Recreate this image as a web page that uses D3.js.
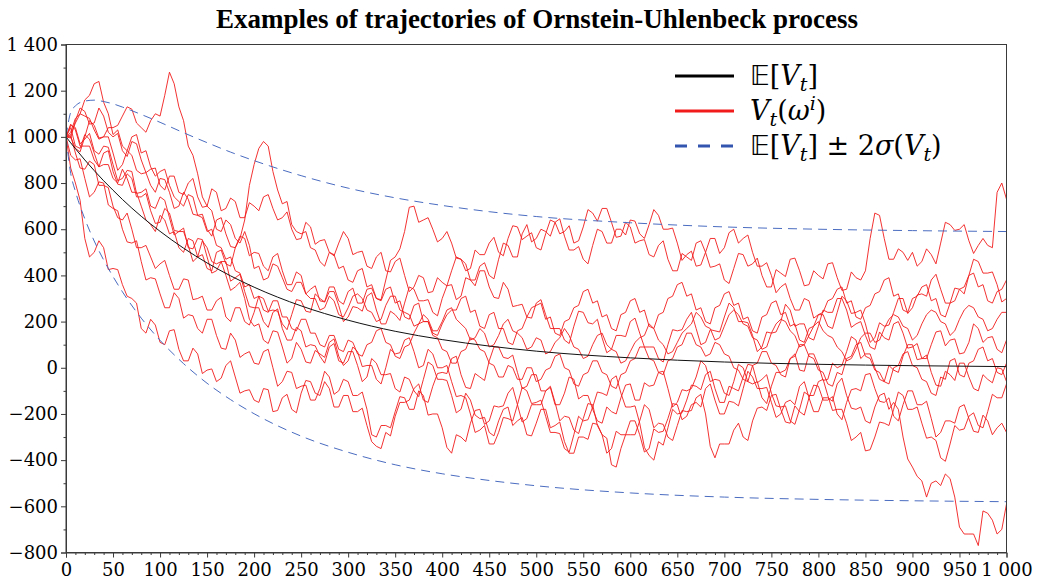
<!DOCTYPE html>
<html>
<head>
<meta charset="utf-8">
<script src="https://cdn.jsdelivr.net/npm/d3@7"></script>
<style>
  html, body { margin: 0; padding: 0; background: #fff; }
  svg { display: block; }
</style>
</head>
<body>
<svg id="chart" width="1037" height="582"></svg>
<script>
// Sampling grid of the simulated paths (every 5 time steps)
const pathTimes = d3.range(0, 1001, 5);

// Ten simulated Ornstein-Uhlenbeck paths, V_0 = 1000
const path1 = [1000,1010,1060,1100,1090,1080,1030,990,1000,1040,1040,1050,1090,1130,1120,1060,1040,1020,1070,1100,
  1090,1180,1280,1230,1130,1070,960,920,840,740,700,680,600,590,640,620,560,540,590,530,
  430,440,380,390,450,440,390,340,330,370,370,320,300,300,250,260,310,290,230,220,
  260,310,320,300,250,240,200,210,270,310,310,250,240,230,180,190,230,210,160,160,
  200,250,260,210,190,170,120,130,170,150,90,100,140,190,210,160,150,130,80,90,
  130,120,60,70,110,130,170,140,90,80,40,50,100,140,150,100,80,70,20,30,
  70,110,130,140,190,170,120,100,60,70,110,150,170,190,240,220,180,170,120,130,
  180,230,250,230,190,180,130,120,80,90,150,190,210,200,160,140,90,100,140,180,
  200,160,140,130,90,70,30,40,80,130,150,150,110,120,170,210,230,220,180,170,
  120,140,190,230,250,240,200,190,140,160,210,250,270,260,220,210,160,170,210,240,
  240];
const path2 = [1000,1020,1080,1100,1160,1180,1230,1240,1150,1100,1010,1030,960,940,1000,1010,930,940,870,830,
  850,860,790,740,720,700,750,740,660,650,590,600,530,520,470,480,420,410,350,360,
  300,310,250,240,290,290,220,220,170,160,210,210,150,150,100,90,140,140,80,70,
  120,110,60,50,100,110,160,170,110,100,50,40,90,100,150,190,200,200,140,130,
  80,70,20,20,70,80,130,120,80,70,20,10,-40,-40,10,0,-50,-50,0,0,
  -60,-50,-10,0,50,60,0,-10,-70,-80,-30,-20,30,30,-20,-30,-80,-90,-30,-20,
  30,40,90,90,40,30,-20,-30,30,40,90,100,150,150,100,90,50,60,110,100,
  60,50,0,-10,-50,-60,10,20,70,70,20,10,-30,-40,40,50,100,100,50,40,
  -10,-20,-70,-80,-20,-30,40,50,100,110,50,40,-10,-20,-60,-70,0,10,60,70,
  10,0,-50,-60,-110,-120,-40,-50,30,40,-30,-40,20,30,80,90,30,40,-20,-30,
  20];
const path3 = [1000,1040,960,950,1010,990,930,870,880,880,820,800,860,820,760,760,700,640,620,590,
  660,640,580,590,520,500,560,550,480,490,430,420,500,510,450,440,520,560,640,790,
  880,950,980,960,850,770,710,720,620,590,580,590,520,510,460,440,500,490,430,440,
  380,370,420,430,350,360,300,290,340,350,280,290,220,210,270,280,200,200,150,140,
  190,230,250,250,300,310,240,250,180,170,230,240,170,170,110,100,160,170,220,260,
  270,280,210,220,150,140,200,210,260,270,330,340,280,290,220,230,170,160,230,240,
  290,300,240,250,180,170,230,240,300,310,360,370,310,320,250,260,200,190,260,270,
  320,330,270,280,210,220,160,150,220,230,280,290,230,240,180,190,120,110,170,180,
  230,240,290,300,340,350,280,290,220,210,260,270,320,330,380,390,310,320,250,240,
  300,310,350,360,290,300,230,220,280,290,340,350,400,410,350,360,290,280,330,340,
  380];
const path4 = [1000,1005,930,865,860,895,880,790,790,780,700,650,640,670,600,520,520,530,480,430,
  450,465,400,340,340,385,380,295,300,310,250,250,290,305,220,200,260,260,200,185,
  240,310,300,245,250,245,190,165,230,295,290,245,240,320,300,285,350,350,290,275,
  330,345,280,280,340,345,300,295,380,465,480,515,590,695,700,630,640,650,600,545,
  560,590,540,475,470,450,380,355,420,420,350,305,300,370,340,265,270,275,220,215,
  280,295,230,170,170,170,120,105,180,245,240,195,190,210,130,65,80,140,140,135,
  200,215,150,90,90,90,40,25,100,165,160,165,210,240,170,100,110,165,160,155,
  220,280,260,200,200,195,140,70,90,155,150,155,200,275,250,180,190,190,130,120,
  180,250,240,240,300,300,250,175,190,200,140,90,80,155,130,120,190,200,150,85,
  90,105,40,40,100,155,160,95,120,125,60,65,110,190,170,110,130,135,80,65,
  120];
const path5 = [1000,865,800,725,560,480,500,550,520,425,430,425,360,310,300,280,170,150,210,185,
  110,100,160,165,80,30,30,85,60,-25,-10,-5,-60,-45,10,30,-40,-110,-100,-95,
  -140,-150,-90,-95,-190,-185,-130,-115,-180,-195,-110,-55,-60,-110,-120,-60,-90,-170,-170,-120,
  -120,-190,-190,-175,-250,-320,-340,-350,-280,-295,-210,-150,-150,-140,-90,-70,-140,-150,-80,-25,
  -20,-25,40,50,-30,-85,-90,-25,-40,-55,30,90,90,45,40,55,-20,-90,-80,-30,
  -30,-100,-100,-85,-160,-160,-110,-40,-50,-135,-120,-120,-180,-230,-240,-170,-190,-200,-130,-75,
  -70,-140,-140,-65,-80,-75,-20,-15,-90,-170,-150,-95,-100,-90,-40,30,10,-60,-50,-55,
  -110,-120,-60,15,0,-60,-70,-60,-130,-155,-80,-20,-20,-10,40,60,-10,-15,60,60,
  10,-55,-50,20,0,10,70,135,120,40,60,60,0,-50,-60,10,-10,-20,50,100,
  100,35,40,55,-20,-75,-80,-15,-30,-55,20,20,-40,-90,-100,-30,-50,-65,0,-5,
  -60];
const path6 = [1000,1050,1040,970,990,1015,940,925,960,955,880,810,820,855,850,755,760,775,700,690,
  740,725,650,575,590,605,520,515,560,555,480,410,420,460,460,375,390,405,330,265,
  260,260,200,175,240,255,170,120,120,175,160,90,100,95,50,20,90,105,30,20,
  70,70,10,-60,-40,40,20,-30,-30,-25,-90,-105,-40,-50,-100,-125,-50,25,10,-50,
  -50,-55,-120,-195,-180,-110,-140,-205,-220,-215,-280,-295,-230,-180,-170,-250,-230,-215,-290,-295,
  -240,-180,-180,-260,-250,-235,-320,-370,-370,-300,-300,-310,-240,-245,-290,-370,-350,-275,-290,-290,
  -230,-230,-290,-365,-350,-265,-280,-275,-220,-155,-160,-225,-210,-160,-150,-170,-90,-70,-140,-200,
  -200,-145,-150,-165,-90,-15,-40,-90,-90,-85,-150,-215,-200,-150,-140,-160,-80,-60,-130,-190,
  -190,-130,-130,-145,-70,-45,-120,-175,-180,-170,-230,-240,-170,-120,-110,-180,-150,-180,-300,-395,
  -430,-470,-490,-560,-500,-490,-510,-460,-480,-560,-690,-720,-720,-720,-770,-620,-630,-660,-720,-700,
  -590];
const path7 = [1000,995,1070,1125,1110,1055,1060,1125,1090,1020,1000,1015,940,915,980,970,900,845,860,865,
  790,770,830,830,760,750,800,820,740,695,700,775,760,680,690,735,720,650,650,715,
  700,680,740,750,690,640,650,675,600,555,560,630,610,535,550,555,500,485,540,590,
  560,490,500,505,440,430,480,500,420,415,460,475,400,330,350,400,390,325,330,390,
  370,355,420,480,470,420,430,510,490,490,540,565,500,485,560,615,610,555,570,585,
  520,510,580,640,630,580,590,615,540,550,610,685,670,635,690,690,630,565,570,630,
  610,540,550,555,490,480,530,550,470,420,420,495,480,465,540,550,500,435,440,450,
  380,365,430,495,490,440,450,475,400,350,350,425,410,395,470,475,420,355,360,420,
  400,385,450,455,390,335,340,415,390,380,420,560,670,660,560,470,470,515,500,465,
  500,440,460,515,490,450,540,630,620,595,600,620,550,495,530,560,530,520,760,800,
  730];
const path8 = [1000,1000,950,935,1000,1070,1050,995,1000,1000,930,855,880,940,920,855,840,845,790,760,
  820,815,760,690,700,760,730,665,660,665,600,570,640,650,580,525,520,570,560,485,
  500,495,440,420,480,495,420,360,360,415,400,320,340,355,290,285,330,330,270,200,
  220,265,260,245,310,325,250,190,190,245,230,205,280,350,340,290,290,295,240,225,
  300,355,360,295,310,390,380,380,440,455,400,385,470,540,530,480,480,580,620,545,
  560,600,590,570,630,645,570,510,510,525,470,450,530,600,590,540,540,600,600,575,
  640,635,580,560,620,685,660,600,600,605,540,465,490,505,440,445,500,560,560,495,
  520,585,600,540,560,575,500,440,440,455,400,325,350,365,300,250,250,300,290,215,
  230,230,180,170,240,310,290,235,240,250,190,110,130,195,180,185,240,300,300,235,
  260,315,320,310,380,405,340,280,280,345,340,320,400,470,460,410,410,415,360,285,
  300];
const path9 = [1000,920,900,905,820,740,760,805,800,705,690,680,600,545,540,550,460,380,390,385,
  320,260,260,325,300,215,230,225,170,150,210,210,140,85,80,150,120,45,60,70,
  20,15,70,80,0,-80,-60,-15,-20,-90,-80,-75,-140,-140,-90,-15,-40,-115,-100,-50,
  -60,-120,-120,-105,-180,-290,-300,-250,-250,-260,-190,-125,-130,-180,-180,-100,-120,-205,-200,-200,
  -260,-345,-370,-290,-300,-320,-240,-185,-180,-245,-230,-165,-170,-165,-110,-85,-160,-235,-220,-160,
  -160,-160,-100,-80,-150,-230,-210,-215,-270,-285,-220,-155,-160,-250,-290,-305,-420,-430,-350,-290,
  -290,-290,-230,-160,-180,-260,-240,-245,-300,-315,-250,-185,-190,-185,-130,-115,-200,-340,-390,-330,
  -330,-330,-270,-240,-300,-315,-230,-175,-170,-185,-120,-115,-180,-235,-240,-165,-190,-205,-130,-75,
  -80,-140,-140,-125,-200,-225,-150,-95,-90,-100,-30,-25,-90,-145,-150,-130,-210,-230,-160,-100,
  -100,-160,-160,-145,-220,-300,-280,-230,-230,-240,-170,-160,-220,-275,-280,-205,-230,-290,-260,-240,
  -280];
const path10 = [1000,1055,1030,960,960,960,900,870,930,940,850,795,790,840,820,740,740,755,680,625,
  630,690,670,595,590,590,530,460,480,550,520,460,450,460,400,335,350,370,300,210,
  180,190,120,105,160,155,90,20,40,110,80,25,20,75,60,45,110,125,50,10,
  30,90,70,5,10,10,-50,-70,0,80,60,65,120,130,70,0,10,80,60,0,
  0,10,-60,-125,-120,-130,-200,-280,-270,-250,-330,-330,-280,-215,-220,-230,-160,-85,-100,-155,
  -150,-140,-210,-280,-280,-285,-350,-365,-290,-210,-230,-225,-170,-105,-110,-120,-50,-35,-110,-170,
  -170,-165,-240,-345,-380,-400,-320,-335,-260,-180,-200,-195,-140,-75,-80,-95,-30,-15,-90,-150,
  -150,-80,-90,-100,-40,15,10,-65,-50,-30,-110,-165,-170,-165,-230,-245,-180,-105,-120,-120,
  -60,-50,-120,-185,-180,-180,-240,-315,-300,-280,-360,-355,-300,-235,-240,-250,-180,-105,-120,-180,
  -180,-170,-240,-305,-300,-315,-390,-405,-330,-250,-270,-265,-210,-195,-250,-260,-190,-115,-130,-130,
  -70];
const paths = [path1, path2, path3, path4, path5, path6, path7, path8, path9, path10];
paths.forEach((p, i) => {
  if (p.length !== pathTimes.length) throw new Error("path" + (i + 1) + " has " + p.length + " values");
});

// Expectation and the ±2σ envelope, sampled at these times
const curveTimes = [0,5,10,20,30,40,50,60,80,100,125,150,175,200,250,300,350,400,450,500,600,700,800,900,1000];
const meanValues = [1000,974,949,900,854,810,769,729,656,591,518,454,398,349,268,206,158,122,94,72,43,25,15,9,5];
const upperValues = [1000,1106,1134,1155,1159,1153,1143,1129,1097,1063,1018,975,934,897,832,778,736,703,676,655,628,610,600,594,590];
const lowerValues = [1000,842,764,645,549,467,395,329,215,119,18,-67,-138,-199,-296,-366,-420,-459,-488,-511,-542,-560,-570,-576,-580];

// Axis ticks
const yMajor = [-800,-600,-400,-200,0,200,400,600,800,1000,1200,1400];
const yMinor = [-700,-500,-300,-100,100,300,500,700,900,1100,1300];
const xMajor = [0,50,100,150,200,250,300,350,400,450,500,550,600,650,700,750,800,850,900,950,1000];
const xMinor = d3.range(0, 1001, 10).filter(v => v % 50 !== 0);

const titleText = "Examples of trajectories of Ornstein-Uhlenbeck process";

const svg = d3.select("#chart");
const plotL = 66, plotR = 1006.5, plotT = 44.5, plotB = 552.5;
const x = d3.scaleLinear().domain([0, 1000]).range([plotL, plotR]);
const y = d3.scaleLinear().domain([-800, 1400]).range([plotB, plotT]);

const fmt = d3.formatLocale({decimal: ".", thousands: " ", grouping: [3], currency: ["", ""], minus: "\u2212"}).format(",d");

const axisColor = "#3a3a3a";
const tickFont = "'DejaVu Serif', serif";

// Title
svg.append("text")
  .attr("x", 537).attr("y", 28)
  .attr("text-anchor", "middle")
  .style("font-family", "'Liberation Serif', 'Times New Roman', serif")
  .style("font-weight", "bold")
  .style("font-size", "27px")
  .text(titleText);

// Plot contents clipped to the frame
svg.append("clipPath").attr("id", "plotClip")
  .append("rect").attr("x", plotL).attr("y", plotT).attr("width", plotR - plotL).attr("height", plotB - plotT);
const plot = svg.append("g").attr("clip-path", "url(#plotClip)");

const pathLine = d3.line().x((d, i) => x(pathTimes[i])).y(d => y(d));
plot.selectAll("path.traj").data(paths).join("path")
  .attr("class", "traj")
  .attr("d", d => pathLine(d))
  .attr("fill", "none")
  .attr("stroke", "#f21b1b")
  .attr("stroke-width", 0.9)
  .attr("stroke-linejoin", "round");

const smooth = d3.line().x((d, i) => x(curveTimes[i])).y(d => y(d)).curve(d3.curveMonotoneX);
plot.append("path").attr("d", smooth(meanValues))
  .attr("fill", "none").attr("stroke", "#111").attr("stroke-width", 1);
[upperValues, lowerValues].forEach(vals => {
  plot.append("path").attr("d", smooth(vals))
    .attr("fill", "none").attr("stroke", "#4a6cc0").attr("stroke-width", 1)
    .attr("stroke-dasharray", "9,6");
});

// Axes
svg.append("g").attr("transform", `translate(${plotL},0)`)
  .call(d3.axisLeft(y).tickValues(yMajor).tickSize(5).tickPadding(3).tickFormat(fmt));
svg.append("g").attr("transform", `translate(${plotL},0)`)
  .call(d3.axisLeft(y).tickValues(yMinor).tickSize(2.5).tickFormat(""))
  .call(g => g.select(".domain").remove());
svg.append("g").attr("transform", `translate(0,${plotB})`)
  .call(d3.axisBottom(x).tickValues(xMajor).tickSize(5).tickPadding(6).tickFormat(fmt));
svg.append("g").attr("transform", `translate(0,${plotB})`)
  .call(d3.axisBottom(x).tickValues(xMinor).tickSize(2.5).tickFormat(""))
  .call(g => g.select(".domain").remove());

svg.selectAll(".tick line, .domain").attr("stroke", axisColor);
svg.selectAll(".tick text")
  .style("font-family", tickFont).style("font-size", "18px").attr("fill", "#000");

// Frame
svg.append("rect").attr("x", plotL).attr("y", plotT).attr("width", plotR - plotL).attr("height", plotB - plotT)
  .attr("fill", "none").attr("stroke", axisColor).attr("stroke-width", 1);

// Legend
const legend = svg.append("g").style("font-family", "'DejaVu Serif', serif").style("font-size", "27px");
const legendRows = [
  {yc: 76, stroke: "#000", dash: null},
  {yc: 111, stroke: "#f21b1b", dash: null},
  {yc: 146, stroke: "#3355b0", dash: "12,11"}
];
legendRows.forEach(r => {
  legend.append("line").attr("x1", 675).attr("x2", 734).attr("y1", r.yc).attr("y2", r.yc)
    .attr("stroke", r.stroke).attr("stroke-width", 3)
    .attr("stroke-dasharray", r.dash);
});

function addRuns(yBase, runs) {
  const t = legend.append("text").attr("x", 750).attr("y", yBase);
  runs.forEach(([s, opt]) => {
    const sp = t.append("tspan").text(s);
    if (opt && opt.it) sp.style("font-style", "italic");
    if (opt && opt.size) sp.style("font-size", opt.size);
    if (opt && opt.dy) sp.attr("dy", opt.dy);
    if (opt && opt.font) sp.style("font-family", opt.font);
  });
}
const bb = {font: "'DejaVu Sans', sans-serif"};
const sub = "19px";
addRuns(85, [["\u{1D53C}", bb], ["["], ["V", {it: 1}], ["t", {it: 1, size: sub, dy: 6}], ["]", {dy: -6}]]);
addRuns(120, [["V", {it: 1}], ["t", {it: 1, size: sub, dy: 6}], ["(", {dy: -6}], ["\u03C9", {it: 1}], ["i", {it: 1, size: sub, dy: -10}], [")", {dy: 10}]]);
addRuns(155, [["\u{1D53C}", bb], ["["], ["V", {it: 1}], ["t", {it: 1, size: sub, dy: 6}], ["] \u00B1 2", {dy: -6}], ["\u03C3", {it: 1}], ["("], ["V", {it: 1}], ["t", {it: 1, size: sub, dy: 6}], [")", {dy: -6}]]);
</script>
</body>
</html>
